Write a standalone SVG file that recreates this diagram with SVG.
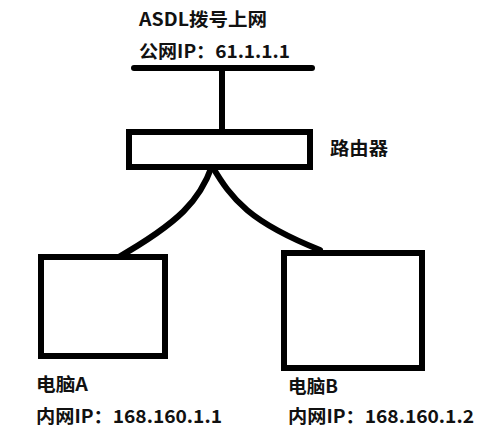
<svg xmlns="http://www.w3.org/2000/svg" width="501" height="438" viewBox="0 0 501 438">
<style>
text{font-family:"Noto Sans CJK SC","Liberation Sans",sans-serif;font-weight:bold;font-size:18px;fill:#111}
.box{fill:#fff;stroke:#000;stroke-width:6}
.ln{fill:none;stroke:#000;stroke-width:6;stroke-linecap:round}
</style>
<rect width="501" height="438" fill="#fff"/>
<g id="isp">
<line class="ln" x1="134" y1="68" x2="312" y2="68"/>
<text x="139" y="26" textLength="128" lengthAdjust="spacingAndGlyphs">ASDL拨号上网</text>
<text x="139" y="58" textLength="151" lengthAdjust="spacingAndGlyphs">公网IP：61.1.1.1</text>
</g>
<g id="connectors">
<line class="ln" x1="222" y1="68" x2="222" y2="130" style="stroke-linecap:butt"/>
<path class="ln" d="M212,166 C200,200 180,222 117,258"/>
<path class="ln" d="M212,166 C232,200 250,222 320,250"/>
</g>
<g id="router">
<rect class="box" x="129" y="132" width="181" height="35"/>
<text x="330" y="155" textLength="58" lengthAdjust="spacingAndGlyphs">路由器</text>
</g>
<g id="pcA">
<rect class="box" x="41" y="257" width="124" height="99"/>
<text x="36" y="391" textLength="52" lengthAdjust="spacingAndGlyphs">电脑A</text>
<text x="36" y="423" textLength="186" lengthAdjust="spacingAndGlyphs">内网IP：168.160.1.1</text>
</g>
<g id="pcB">
<rect class="box" x="284" y="253" width="138" height="115"/>
<text x="288" y="393" textLength="50" lengthAdjust="spacingAndGlyphs">电脑B</text>
<text x="288" y="423" textLength="186" lengthAdjust="spacingAndGlyphs">内网IP：168.160.1.2</text>
</g>
</svg>
